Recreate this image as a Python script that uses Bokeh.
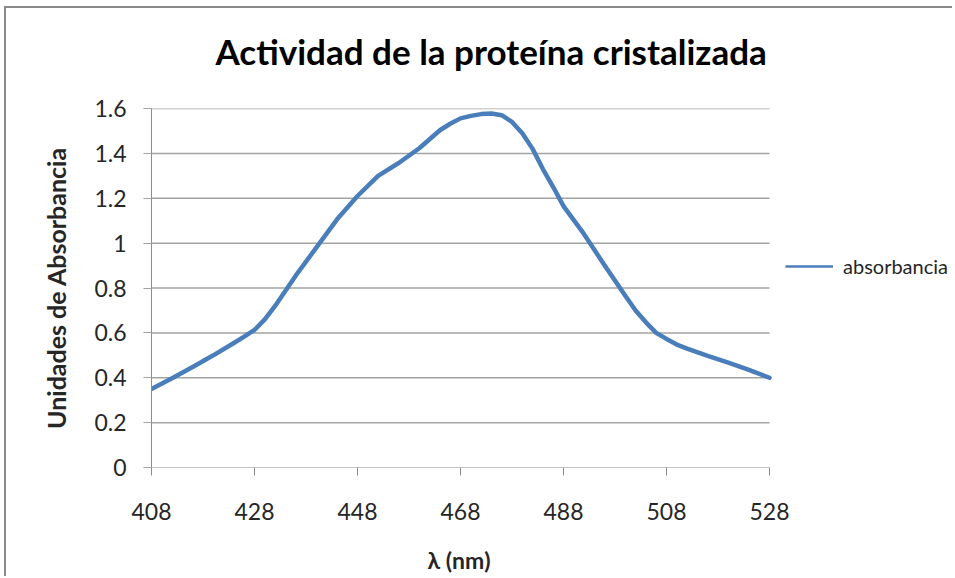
from bokeh.plotting import figure
from bokeh.models import (FixedTicker, CustomJSTickFormatter, Legend, LegendItem,
                          Range1d, InlineStyleSheet, GlobalInlineStyleSheet, Title)
from bokeh.embed import file_html
from bokeh.resources import INLINE

# Absorbance spectrum of the crystallised protein
wavelength = [408, 412, 416, 420, 424, 426, 428, 430, 432, 436, 440, 444, 448,
              452, 456, 460, 464, 466, 468, 470, 472, 474, 476, 478, 480, 482,
              484, 486, 488, 492, 496, 500, 502, 504, 506, 508, 510, 512, 516,
              520, 524, 528]
absorbancia = [0.35, 0.398, 0.448, 0.50, 0.555, 0.583, 0.613, 0.66, 0.72, 0.855,
               0.98, 1.105, 1.21, 1.30, 1.357, 1.423, 1.503, 1.532, 1.556, 1.567,
               1.575, 1.578, 1.57, 1.54, 1.49, 1.42, 1.33, 1.25, 1.165, 1.04,
               0.90, 0.765, 0.70, 0.647, 0.60, 0.573, 0.548, 0.53, 0.497, 0.467,
               0.435, 0.40]

x_ticks = [408, 428, 448, 468, 488, 508, 528]
y_ticks = [0, 0.2, 0.4, 0.6, 0.8, 1, 1.2, 1.4, 1.6]

FONT = "Lato"
TEXT = "#262626"
GRID = "#a3a3a3"
AXIS = "#8c8c8c"
BLUE = "#4a7ebb"

# canvas geometry (px): the plotting frame runs to the right edge so the
# legend, which sits right of the data area, is not clipped
W, H = 948, 570
LEFT, TOP, BOTTOM = 145, 100, 111
DATA_W = 618                      # pixel width of the 408..528 span
frame_w = W - LEFT
x_end = x_ticks[0] + frame_w * (x_ticks[-1] - x_ticks[0]) / DATA_W

page_css = GlobalInlineStyleSheet(css="html, body { margin: 0; overflow: hidden; }")
chart_border = InlineStyleSheet(css=""":host {
  border-left: 2px solid #8a8a8a;
  border-top: 2px solid #8a8a8a;
}""")

p = figure(width=W, height=H, output_backend="svg", toolbar_location=None,
           x_range=Range1d(x_ticks[0], x_end), y_range=Range1d(y_ticks[0], y_ticks[-1]),
           min_border_left=LEFT, min_border_right=0, min_border_top=TOP,
           min_border_bottom=BOTTOM,
           stylesheets=[page_css, chart_border])
p.margin = (6, 0, 0, 4)

p.background_fill_color = "white"
p.border_fill_color = "white"
p.outline_line_color = None

# chart title, held above the plot area by an empty spacer title
p.title.text = "Actividad de la proteína cristalizada"
p.title.text_font = FONT
p.title.text_font_size = "35px"
p.title.text_font_style = "bold"
p.title.text_color = "black"
p.title.align = "left"
p.title.offset = 64
p.title.standoff = 0
p.add_layout(Title(text=" ", text_font_size="1px", standoff=34), "above")

# x axis (its line is drawn below as a segment over the data span only)
p.xaxis.ticker = FixedTicker(ticks=x_ticks)
p.xaxis.major_label_text_font = FONT
p.xaxis.major_label_text_font_size = "23px"
p.xaxis.major_label_text_color = TEXT
p.xaxis.major_label_standoff = 27
p.xaxis.major_tick_out = 8
p.xaxis.major_tick_in = 0
p.xaxis.minor_tick_out = 0
p.xaxis.minor_tick_in = 0
p.xaxis.axis_line_color = None
p.xaxis.major_tick_line_color = AXIS

# x axis title, centred under the data span (spacer title gives the gap)
p.add_layout(Title(text=" ", text_font_size="1px", standoff=18), "below")
p.add_layout(Title(text="λ (nm)", text_font=FONT, text_font_size="23px",
                   text_font_style="bold", text_color=TEXT, align="left",
                   offset=276, standoff=0), "below")

# y axis
p.yaxis.ticker = FixedTicker(ticks=y_ticks)
p.yaxis.formatter = CustomJSTickFormatter(code="return String(Math.round(tick * 10) / 10);")
p.yaxis.axis_label = "Unidades de Absorbancia"
p.yaxis.axis_label_text_font = FONT
p.yaxis.axis_label_text_font_size = "25px"
p.yaxis.axis_label_text_font_style = "bold"
p.yaxis.axis_label_text_color = TEXT
p.yaxis.axis_label_standoff = 20
p.yaxis.major_label_text_font = FONT
p.yaxis.major_label_text_font_size = "23px"
p.yaxis.major_label_text_color = TEXT
p.yaxis.major_label_standoff = 17
p.yaxis.major_tick_out = 8
p.yaxis.major_tick_in = 0
p.yaxis.minor_tick_out = 0
p.yaxis.minor_tick_in = 0
p.yaxis.axis_line_color = AXIS
p.yaxis.major_tick_line_color = GRID

# horizontal gridlines and the x axis line, limited to the data span
p.xgrid.grid_line_color = None
p.ygrid.grid_line_color = None
grid_y = y_ticks[1:]
p.segment(x0=[x_ticks[0]] * len(grid_y), y0=grid_y,
          x1=[x_ticks[-1]] * len(grid_y), y1=grid_y,
          line_color=GRID, line_width=1.5)
p.segment(x0=[x_ticks[0]], y0=[y_ticks[0]], x1=[x_ticks[-1]], y1=[y_ticks[0]],
          line_color=AXIS, line_width=1.2)

# thinner copy of the series for the legend sample, hidden under the main line
swatch = p.line(wavelength, absorbancia, line_color=BLUE, line_width=2.5)
p.line(wavelength, absorbancia, line_color=BLUE, line_width=4.5,
       line_join="round", line_cap="round")

legend = Legend(items=[LegendItem(label="absorbancia", renderers=[swatch])],
                location=(634, 189), padding=0, margin=0, spacing=0,
                glyph_width=48, glyph_height=20, label_height=20,
                label_standoff=10, label_text_font=FONT,
                label_text_font_size="20px", label_text_color=TEXT,
                border_line_color=None, background_fill_alpha=0)
p.add_layout(legend, "center")

open("out.html", "w").write(file_html(p, INLINE))
